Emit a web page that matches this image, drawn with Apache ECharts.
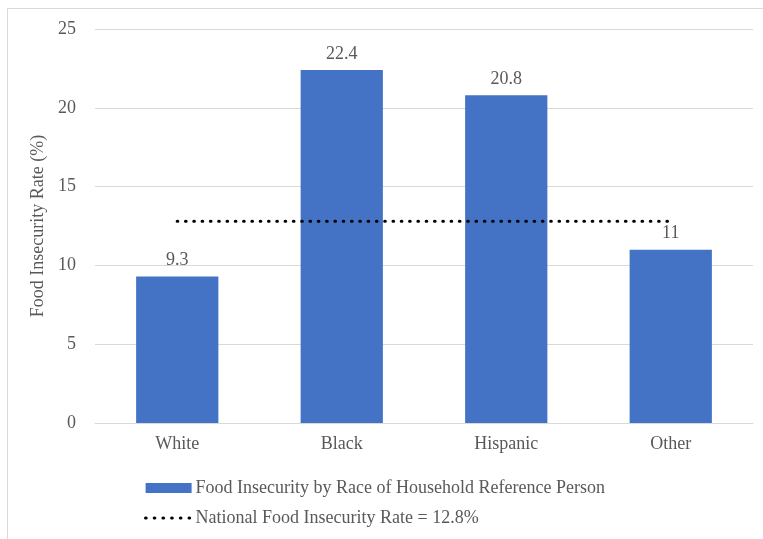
<!DOCTYPE html>
<html>
<head>
<meta charset="utf-8">
<script src="https://cdn.jsdelivr.net/npm/echarts@6/dist/echarts.min.js"></script>
<style>
  html, body { margin: 0; padding: 0; background: #fff; }
  #chart { width: 763px; height: 539px; }
</style>
</head>
<body>
<div id="chart"></div>
<script>
// Food insecurity rates by race of the household reference person
const categories = ['White', 'Black', 'Hispanic', 'Other'];
const rates = [9.3, 22.4, 20.8, 11];
const nationalRate = 12.8;
const yTicks = { min: 0, max: 25, interval: 5 };

const barName = 'Food Insecurity by Race of Household Reference Person';
const lineName = 'National Food Insecurity Rate = 12.8%';

const textColor = '#595959';
const fontFamily = '"Liberation Serif", "Times New Roman", serif';

// Reference line spans from the first to the last category
const nationalLine = categories.map((c, i) =>
  (i === 0 || i === categories.length - 1) ? [c, nationalRate] : [c, null]);

const dotted = { color: '#000000', width: 3.2, type: [0.5, 7.8], cap: 'round' };

const chart = echarts.init(document.getElementById('chart'), null, { renderer: 'canvas' });
chart.setOption({
  animation: false,
  backgroundColor: '#ffffff',
  textStyle: { fontFamily: fontFamily, color: textColor },
  graphic: [{
    type: 'rect',
    shape: { x: 7.5, y: 8.5, width: 800, height: 600 },
    style: { fill: 'none', stroke: '#d9d9d9', lineWidth: 1 },
    silent: true,
    z: -1
  }],
  grid: { left: 95, right: 10, top: 29, bottom: 116, containLabel: false },
  legend: {
    orient: 'vertical',
    left: 139,
    top: 474,
    itemGap: 12,
    itemWidth: 46,
    itemHeight: 10,
    textStyle: { fontFamily: fontFamily, fontSize: 18, color: textColor, padding: [0, 0, 0, -1] },
    data: [
      { name: barName, icon: 'rect' },
      {
        name: lineName,
        itemStyle: { opacity: 0, borderWidth: 0 },
        lineStyle: { color: '#000000', width: 3.2, type: [0.5, 8.2], cap: 'round' }
      }
    ]
  },
  xAxis: {
    type: 'category',
    data: categories,
    axisLine: { show: true, lineStyle: { color: '#d9d9d9', width: 1 } },
    axisTick: { show: false },
    axisLabel: { fontFamily: fontFamily, fontSize: 18, color: textColor, margin: 12 }
  },
  yAxis: {
    type: 'value',
    min: yTicks.min,
    max: yTicks.max,
    interval: yTicks.interval,
    name: 'Food Insecurity Rate (%)',
    nameLocation: 'middle',
    nameRotate: 90,
    nameGap: 44,
    nameTextStyle: { fontFamily: fontFamily, fontSize: 18, color: textColor },
    axisLine: { show: false },
    axisTick: { show: false },
    axisLabel: { fontFamily: fontFamily, fontSize: 18, color: textColor, margin: 19 },
    splitLine: { lineStyle: { color: '#d9d9d9', width: 1 } }
  },
  series: [
    {
      name: barName,
      type: 'bar',
      data: rates,
      barWidth: '50%',
      itemStyle: { color: '#4472c4' },
      label: {
        show: true,
        position: 'top',
        distance: 7,
        fontFamily: fontFamily,
        fontSize: 18,
        color: textColor
      }
    },
    {
      name: lineName,
      type: 'line',
      data: nationalLine,
      connectNulls: true,
      symbol: 'none',
      z: 5,
      itemStyle: { color: '#000000' },
      lineStyle: dotted
    }
  ]
});
</script>
</body>
</html>
